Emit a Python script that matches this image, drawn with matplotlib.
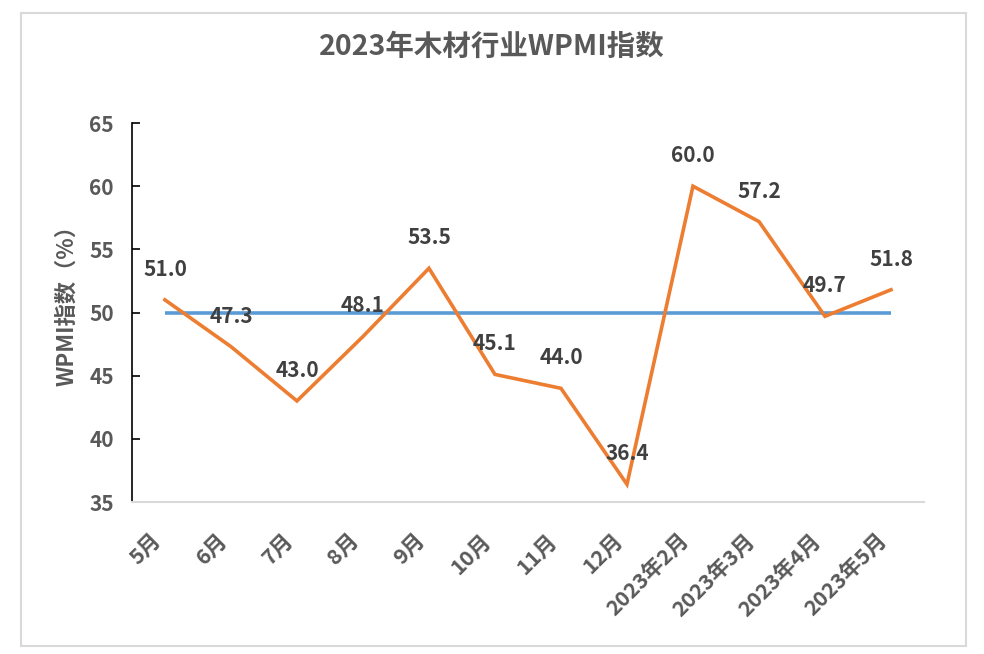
import matplotlib.pyplot as plt
from matplotlib.patches import Rectangle

plt.rcParams['font.family'] = ['Noto Sans CJK SC', 'DejaVu Sans']

# données
mois = ["5月", "6月", "7月", "8月", "9月", "10月", "11月", "12月",
        "2023年2月", "2023年3月", "2023年4月", "2023年5月"]
wpmi = [51.0, 47.3, 43.0, 48.1, 53.5, 45.1, 44.0, 36.4, 60.0, 57.2, 49.7, 51.8]
seuil = [50] * len(mois)  # ligne 50

gris = "#595959"

fig = plt.figure(figsize=(9.84, 6.54), dpi=100)
ax = fig.add_axes([0.1341, 0.2324, 0.8049, 0.5795])

# cadre gris autour du graphique
fig.patches.append(Rectangle((21 / 984, 1 - 646 / 654), 945 / 984, 633 / 654,
                             transform=fig.transFigure, fill=False,
                             edgecolor="#d9d9d9", lw=1.5))

x = list(range(len(mois)))
ax.plot(x, seuil, color="#5B9BD5", lw=2.6, solid_capstyle="butt", zorder=2)
ax.plot(x, wpmi, color="#ED7D31", lw=2.6, solid_joinstyle="miter", zorder=3)

for i, v in enumerate(wpmi):
    ax.annotate(f"{v:.1f}", (i, v), xytext=(0, 22), textcoords="offset points",
                ha="center", va="center", fontsize=15, fontweight="bold",
                color="#404040", zorder=4)

ax.set_xlim(-0.5, len(mois) - 0.5)
ax.set_ylim(35, 65)
ax.set_yticks(range(35, 66, 5))
ax.set_xticks(x)
ax.set_xticklabels(mois, rotation=45, ha="right", va="top")

ax.tick_params(axis="y", direction="in", length=6, width=1.2, color="black",
               pad=13, labelsize=15, labelcolor=gris)
ax.tick_params(axis="x", length=0, pad=20, labelsize=15.5, labelcolor=gris)
for lab in ax.get_xticklabels() + ax.get_yticklabels():
    lab.set_fontweight("bold")

ax.spines["top"].set_visible(False)
ax.spines["right"].set_visible(False)
ax.spines["left"].set_color("black")
ax.spines["left"].set_linewidth(1.2)
ax.spines["bottom"].set_color("#d9d9d9")
ax.spines["bottom"].set_linewidth(1.5)

ax.set_ylabel("WPMI指数（%）", fontsize=16, fontweight="bold", color=gris,
              va="center")
ax.yaxis.set_label_coords(-0.082, 0.532)

fig.text(0.5, 1 - 47 / 654, "2023年木材行业WPMI指数", ha="center", va="center",
         fontsize=20.5, fontweight="bold", color=gris)

fig.savefig("out.png", dpi=100)
